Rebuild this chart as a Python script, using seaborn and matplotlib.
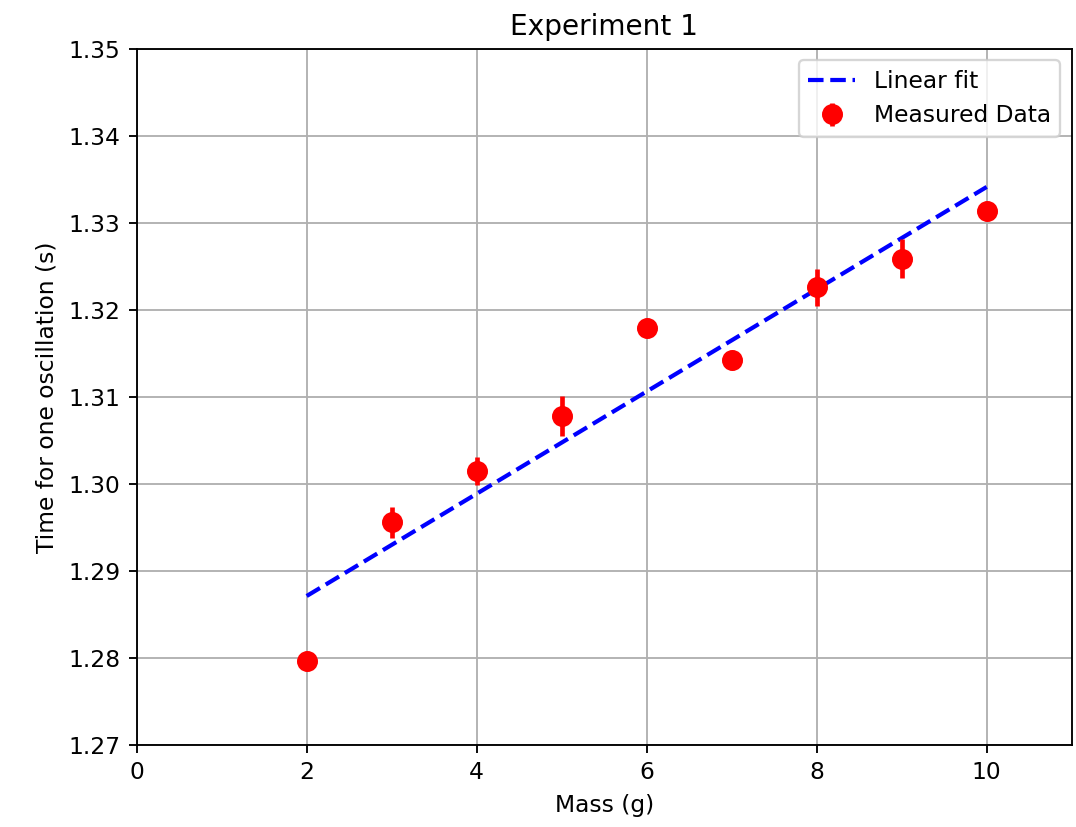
import numpy as np
import pandas as pd
import matplotlib.pyplot as plt
import seaborn as sns

mass = [2, 3, 4, 5, 6, 7, 8, 9, 10]
period = [1.2797, 1.2956, 1.3015, 1.3078, 1.3179, 1.3143, 1.3226, 1.3259, 1.3314]
period_err = [0.0004, 0.0018, 0.0016, 0.0023, 0.0005, 0.0009, 0.0021, 0.0022, 0.0010]

# linear fit parameters
fit_slope = 0.005875
fit_intercept = 1.27538

df = pd.DataFrame({'Mass': mass, 'Period': period, 'Err': period_err})
df['Fit'] = fit_intercept + fit_slope * df['Mass']

sns.set_style("ticks")
plt.rcParams['font.family'] = ['DejaVu Sans']
plt.rcParams['text.color'] = 'black'
plt.rcParams['axes.labelcolor'] = 'black'

fig, ax = plt.subplots(figsize=(1076 / 168, 827 / 168), dpi=168)
fig.subplots_adjust(left=0.127, right=0.996, top=0.941, bottom=0.099)

sns.lineplot(data=df, x='Mass', y='Fit', ax=ax, color='blue', linestyle='--',
             linewidth=1.8, label='Linear fit')
ax.errorbar(df['Mass'], df['Period'], yerr=df['Err'], fmt='o', color='red',
            markersize=8, elinewidth=2, label='Measured Data')

ax.set_xlim(0, 11)
ax.set_ylim(1.27, 1.35)
ax.set_xticks([0, 2, 4, 6, 8, 10])
ax.set_yticks(np.arange(1.27, 1.3501, 0.01))
ax.grid(True, color='#b0b0b0', linewidth=0.8)
for s in ax.spines.values():
    s.set_color('black')
    s.set_linewidth(0.8)
ax.tick_params(direction='out', length=3.5, width=0.8, colors='black')
ax.set_xlabel('Mass (g)')
ax.set_ylabel('Time for one oscillation (s)')
ax.set_title('Experiment 1')
ax.legend(loc='upper right')

plt.savefig('out.png', dpi=168)
